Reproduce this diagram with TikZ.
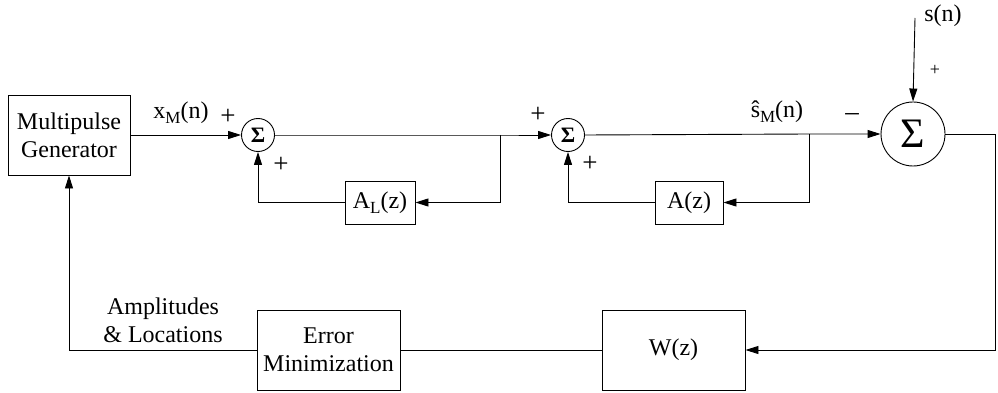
\documentclass[tikz,border=0pt]{standalone}
\usepackage{fontspec}
\setmainfont{Liberation Serif}
\usetikzlibrary{arrows.meta}
\begin{document}
\begin{tikzpicture}[x=1pt,y=-1pt,
  every node/.style={font=\fontsize{24}{28}\selectfont},
  blk/.style={draw,line width=0.9pt,inner sep=0pt,align=center},
  sumsmall/.style={draw,circle,line width=0.9pt,minimum size=33pt,inner sep=0pt,font=\fontsize{22}{22}\selectfont\bfseries},
  sumbig/.style={draw,circle,line width=0.9pt,minimum size=64pt,inner sep=0pt,font=\fontsize{42}{42}\selectfont},
  wire/.style={line width=0.9pt},
  arr/.style={wire,-{Triangle[length=13pt,width=8pt]}},
  lbl/.style={inner sep=0pt},
  sgn/.style={inner sep=0pt,font=\fontsize{27}{27}\selectfont}]
\useasboundingbox (0,0) rectangle (998,393);
\node[blk,minimum width=122pt,minimum height=80pt] (mg) at (69,135) {Multipulse\\Generator};
\node[sumsmall] (s1) at (258,135) {Σ};
\node[sumsmall] (s2) at (568,135) {Σ};
\node[sumbig] (s3) at (913,134) {Σ};
\node[blk,minimum width=70pt,minimum height=43pt] (al) at (380,202.5) {A\raisebox{-5pt}{\fontsize{17}{17}\selectfont L}(z)};
\node[blk,minimum width=68pt,minimum height=43pt] (a) at (689,202.5) {A(z)};
\node[blk,minimum width=143pt,minimum height=80pt] (w) at (673.5,350) {W(z)};
\node[blk,minimum width=143pt,minimum height=80pt] (em) at (328.5,350) {Error\\Minimization};
\coordinate (j1) at (500,135);
\coordinate (j2) at (809,134);
\coordinate (sn) at (915,18);
\coordinate (c3) at (995,134);
% connectors
\draw[arr] (mg.east) -- (s1.west);
\draw[arr] (s1.east) -- (j1) -- (s2.west);
\draw[arr] (j1) |- (al.east);
\draw[arr] (al.west) -| (s1.south);
\draw[arr] (s2.east) -- (j2) -- (s3.west);
\draw[arr] (j2) |- (a.east);
\draw[arr] (a.west) -| (s2.south);
\draw[arr] (sn) -- (s3.north);
\draw[arr] (s3.east) -- (c3) |- (w.east);
\draw[wire] (w.west) -- (em.east);
\draw[arr] (em.west) -| (mg.south);
% labels
\node[lbl] (xm) at (181,113) {x\raisebox{-5pt}{\fontsize{17}{17}\selectfont M}(n)};
\node[sgn] (p1) at (228,117) {+};
\node[sgn] (p2) at (281,165) {+};
\node[sgn] (p3) at (538,115) {+};
\node[sgn] (p4) at (590,164) {+};
\node[lbl] (sm) at (777,112) {ŝ\raisebox{-5pt}{\fontsize{17}{17}\selectfont M}(n)};
\node[sgn] (mi) at (852,117) {–};
\node[lbl] (snl) at (943,16) {s(n)};
\node[lbl,font=\fontsize{18}{18}\selectfont] (p5) at (935,70) {+};
\node[lbl,align=center] (amp) at (163,320) {Amplitudes\\\& Locations};
\end{tikzpicture}
\end{document}
